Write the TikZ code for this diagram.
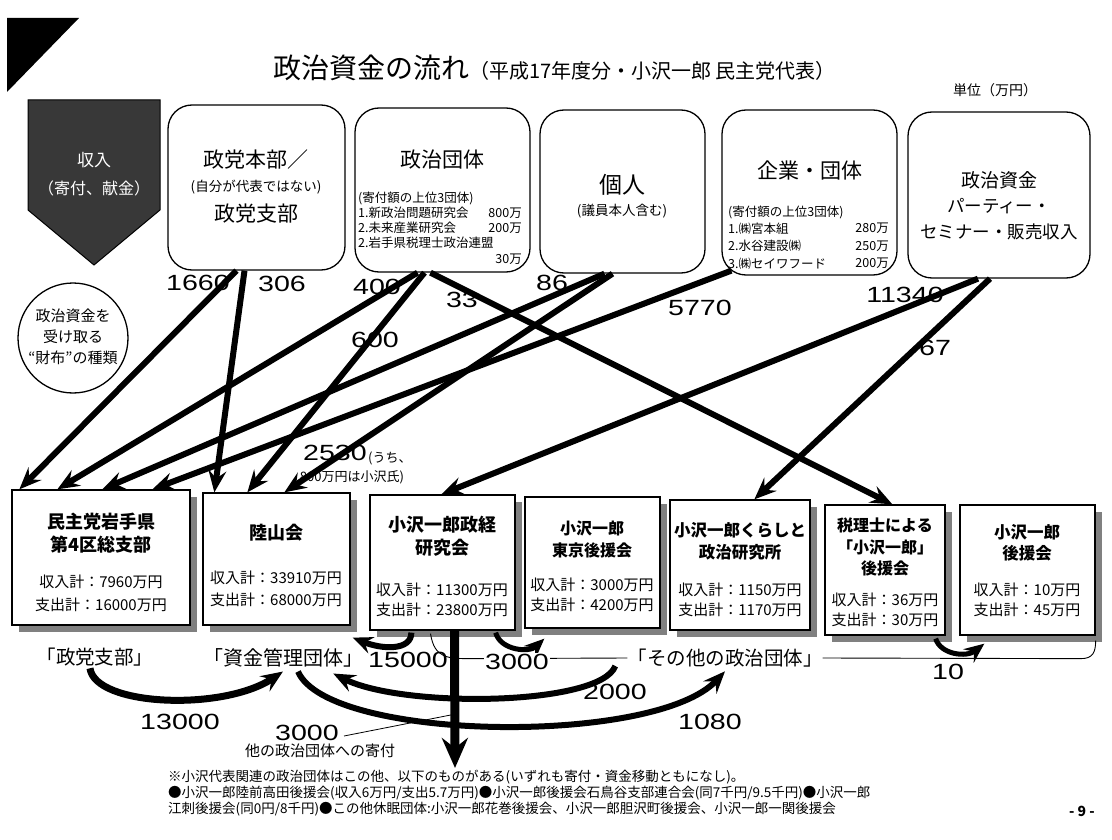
\documentclass[tikz,border=0pt]{standalone}
\usepackage{fontspec}
\setmainfont{Noto Sans CJK JP}
\newfontfamily\numfont[FakeStretch=1.3]{Liberation Sans}
\usetikzlibrary{arrows.meta,shadows,calc}

\newcommand{\fsz}[1]{\fontsize{#1}{#1}\selectfont}

\tikzset{
  srcbox/.style={draw, line width=1.3pt, rounded corners=24pt, inner sep=0pt},
  wallet/.style={draw, line width=1.3pt, fill=white, inner sep=0pt,
    drop shadow={shadow xshift=7pt, shadow yshift=-7pt, fill=black!50, opacity=1}},
  flow/.style={line width=6pt, -{Stealth[length=22pt,width=18pt,inset=8pt]}},
  amt/.style={font=\numfont\fsz{22}, inner sep=0pt},
  headtxt/.style={font=\fsz{21}, inner sep=0pt},
  subtxt/.style={font=\fsz{13.5}, inner sep=0pt},
  listtxt/.style={font=\fsz{12.5}, inner sep=0pt},
  wname/.style={font=\bfseries\fsz{18}, inner sep=0pt},
  wsum/.style={font=\fsz{15}, inner sep=0pt},
  kindtxt/.style={font=\fsz{19.5}, inner sep=0pt},
  notetxt/.style={font=\fsz{13.5}, inner sep=0pt, anchor=west},
}

\begin{document}
\begin{tikzpicture}[x=1pt, y=-1pt]
  \useasboundingbox (0,0) rectangle (1112,840);

  % corner mark and title
  \fill (7,18) -- (79,18) -- (7,92) -- cycle;
  \node[anchor=west, inner sep=0pt] (title) at (273,68)
    {{\fsz{28}政治資金の流れ}{\fsz{20}（平成17年度分・小沢一郎 民主党代表）}};
  \node[font=\fsz{14}, inner sep=0pt] (unit) at (995,90) {単位（万円）};

  % income badge and wallet circle
  \draw[fill=black!78, line width=1pt]
    (28,100) -- (160,100) -- (160,210) -- (94,265) -- (28,210) -- cycle;
  \node[font=\fsz{17}, text=white, inner sep=0pt] (incA) at (94,160) {収入};
  \node[font=\fsz{16}, text=white, inner sep=0pt] (incB) at (94,188) {（寄付、献金）};

  \node[draw, circle, line width=1.3pt, minimum size=110pt, inner sep=0pt] (purse) at (73,338) {};
  \node[font=\fsz{15}, inner sep=0pt] (purseA) at (73,316) {政治資金を};
  \node[font=\fsz{15}, inner sep=0pt] (purseB) at (73,337) {受け取る};
  \node[font=\fsz{15}, inner sep=0pt] (purseC) at (73,358) {“財布”の種類};

  % sources
  \node[srcbox, minimum width=177pt, minimum height=165pt] (hq) at (256.5,187.5) {};
  \node[headtxt] (hqA) at (256,160) {政党本部／};
  \node[subtxt] (hqB) at (256,187) {(自分が代表ではない)};
  \node[headtxt] (hqC) at (256,214) {政党支部};

  \node[srcbox, minimum width=175pt, minimum height=164pt] (dantai) at (442.5,190) {};
  \node[headtxt] (dantaiA) at (442,160) {政治団体};
  \node[listtxt, anchor=west] (dantaiB) at (358,198) {(寄付額の上位3団体)};
  \foreach \name/\val [count = \i] in {1.新政治問題研究会/800万, 2.未来産業研究会/200万} {
    \node[listtxt, anchor=west] (dantaiL\i) at (358,{198+15*\i}) {\name};
    \node[listtxt, anchor=east] (dantaiV\i) at (522,{198+15*\i}) {\val};
  }
  \node[listtxt, anchor=west] (dantaiL3) at (358,243) {2.岩手県税理士政治連盟};
  \node[listtxt, anchor=east] (dantaiV3) at (522,259) {30万};

  \node[srcbox, minimum width=165pt, minimum height=163pt] (kojin) at (622.5,191.5) {};
  \node[font=\fsz{23}, inner sep=0pt] (kojinA) at (622,185) {個人};
  \node[subtxt] (kojinB) at (622,211) {(議員本人含む)};

  \node[srcbox, minimum width=175pt, minimum height=165pt] (kigyo) at (809.5,192.5) {};
  \node[headtxt] (kigyoA) at (810,170) {企業・団体};
  \node[listtxt, anchor=west] (kigyoB) at (728,212) {(寄付額の上位3団体)};
  \foreach \name/\val [count = \i] in {1.㈱宮本組/280万, 2.水谷建設㈱/250万, 3.㈱セイワフード/200万} {
    \node[listtxt, anchor=west] (kigyoL\i) at (728,{211+17.5*\i}) {\name};
    \node[listtxt, anchor=east] (kigyoV\i) at (889,{211+17.5*\i}) {\val};
  }

  \node[srcbox, minimum width=182pt, minimum height=166pt] (party) at (999,195) {};
  \node[font=\fsz{19}, inner sep=0pt] (partyA) at (999,180) {政治資金};
  \node[font=\fsz{17.5}, inner sep=0pt] (partyB) at (999,206) {パーティー・};
  \node[font=\fsz{17.5}, inner sep=0pt] (partyC) at (999,232) {セミナー・販売収入};

  % wallets
  \node[wallet, minimum width=178pt, minimum height=135pt] (branch) at (101,557.5) {};
  \node[wname] (branchA) at (101,522) {民主党岩手県};
  \node[wname] (branchB) at (101,545) {第4区総支部};
  \node[wsum] (branchC) at (101,582) {収入計：7960万円};
  \node[wsum] (branchD) at (101,605) {支出計：16000万円};

  \node[wallet, minimum width=147pt, minimum height=132pt] (rikuzan) at (276.5,559) {};
  \node[wname] (rikuzanA) at (276,533) {陸山会};
  \node[wsum] (rikuzanC) at (276,578) {収入計：33910万円};
  \node[wsum] (rikuzanD) at (276,600) {支出計：68000万円};

  \node[wallet, minimum width=145pt, minimum height=135pt] (seikei) at (442.5,562.5) {};
  \node[wname] (seikeiA) at (442,525) {小沢一郎政経};
  \node[wname] (seikeiB) at (442,548) {研究会};
  \node[wsum] (seikeiC) at (442,590) {収入計：11300万円};
  \node[wsum] (seikeiD) at (442,610) {支出計：23800万円};

  \node[wallet, minimum width=135pt, minimum height=131pt] (tokyo) at (592.5,562.5) {};
  \node[wname, font=\bfseries\fsz{16}] (tokyoA) at (592,528) {小沢一郎};
  \node[wname, font=\bfseries\fsz{16}] (tokyoB) at (592,550) {東京後援会};
  \node[wsum] (tokyoC) at (592,585) {収入計：3000万円};
  \node[wsum] (tokyoD) at (592,605) {支出計：4200万円};

  \node[wallet, minimum width=140pt, minimum height=130pt] (kurashi) at (740,565) {};
  \node[wname, font=\bfseries\fsz{16.5}] (kurashiA) at (740,530) {小沢一郎くらしと};
  \node[wname, font=\bfseries\fsz{16.5}] (kurashiB) at (740,552) {政治研究所};
  \node[wsum] (kurashiC) at (740,590) {収入計：1150万円};
  \node[wsum] (kurashiD) at (740,610) {支出計：1170万円};

  \node[wallet, minimum width=120pt, minimum height=130pt] (zeirishi) at (885,570) {};
  \node[wname, font=\bfseries\fsz{16}] (zeirishiA) at (885,525) {税理士による};
  \node[wname, font=\bfseries\fsz{16}] (zeirishiB) at (885,547) {「小沢一郎」};
  \node[wname, font=\bfseries\fsz{16}] (zeirishiE) at (885,568) {後援会};
  \node[wsum] (zeirishiC) at (885,600) {収入計：36万円};
  \node[wsum] (zeirishiD) at (885,620) {支出計：30万円};

  \node[wallet, minimum width=135pt, minimum height=130pt] (koenkai) at (1027.5,570) {};
  \node[wname, font=\bfseries\fsz{16.5}] (koenkaiA) at (1027,532) {小沢一郎};
  \node[wname, font=\bfseries\fsz{16.5}] (koenkaiB) at (1027,553) {後援会};
  \node[wsum] (koenkaiC) at (1027,590) {収入計：10万円};
  \node[wsum] (koenkaiD) at (1027,610) {支出計：45万円};

  % amounts on the flows
  \node[amt] (n1660) at (198,283) {1660};
  \node[amt] (n306) at (282,284) {306};
  \node[amt] (n400) at (377,287) {400};
  \node[amt] (n33) at (462,300) {33};
  \node[amt] (n86) at (552,283) {86};
  \node[amt] (n600) at (375,340) {600};
  \node[amt] (n5770) at (700,308) {5770};
  \node[amt] (n11340) at (905,295) {11340};
  \node[amt] (n67) at (935,348) {67};
  \node[amt] (n2530) at (335,453) {2530};
  \node[font=\fsz{13}, anchor=west, inner sep=0pt] (n2530a) at (368,458) {(うち、};
  \node[font=\fsz{13}, inner sep=0pt] (n2530b) at (352,477) {800万円は小沢氏)};

  % income flows
  \draw[flow] ($(hq.south)+(-20,0)$) -- ($(branch.north west)+(8,0)$);
  \draw[flow] ($(hq.south)+(-12,0)$) -- ($(rikuzan.north west)+(12,0)$);
  \draw[flow] ($(dantai.south)+(-25,0)$) -- ($(branch.north west)+(46,0)$);
  \draw[flow] ($(dantai.south)+(-18,0)$) -- ($(rikuzan.north west)+(45,0)$);
  \draw[flow] ($(dantai.south)+(-12,0)$) -- ($(zeirishi.north west)+(68,0)$);
  \draw[flow] ($(kojin.south)+(-18,0)$) -- ($(branch.north west)+(91,0)$);
  \draw[flow] ($(kojin.south)+(-10,0)$) -- ($(rikuzan.north west)+(82,0)$);
  \draw[flow] ($(kigyo.south west)+(10,-5)$) -- ($(branch.north west)+(141,0)$);
  \draw[flow] ($(party.south)+(-21,0)$) -- ($(seikei.north west)+(72,0)$);
  \draw[flow] ($(party.south)+(-9,0)$) -- ($(kurashi.north west)+(85,0)$);

  % kinds of wallet
  \node[kindtxt] (kParty) at (95,657) {「政党支部」};
  \node[kindtxt, font=\fsz{20}] (kFund) at (283,658) {「資金管理団体」};
  \node[kindtxt] (kOther) at (725,658) {「その他の政治団体」};

  \draw[line width=0.9pt] ($(seikei.south)+(-12,3)$) .. controls +(4,25) and +(-25,0) ..
    ($(seikei.south)+(30,28)$) -- (kOther.west);
  \draw[line width=0.9pt] (kOther.east) -- ($(koenkai.south east)+(-15,23)$)
    .. controls +(12,0) and +(0,12) .. ($(koenkai.south east)+(0,5)$);

  % transfers between wallets
  \draw[line width=7pt, -{Stealth[length=22pt,width=18pt,inset=8pt]}]
    ($(kParty.south)+(-5,2)$) .. controls +(5,38) and +(-60,40) .. ($(kFund.south)+(0,4)$);
  \draw[line width=6pt, -{Stealth[length=22pt,width=18pt,inset=8pt]}]
    ($(kFund.south)+(15,4)$) .. controls +(30,70) and +(-70,75) .. ($(kOther.south)+(0,4)$);
  \draw[line width=6pt, -{Stealth[length=22pt,width=18pt,inset=8pt]}]
    ($(kOther.west)+(-12,8)$) .. controls +(-15,40) and +(70,35) .. ($(kFund.south east)+(-30,6)$);
  \draw[line width=6pt, -{Stealth[length=20pt,width=17pt,inset=7pt]}]
    ($(seikei.south west)+(42,2)$) .. controls +(0,18) and +(30,12) .. ($(rikuzan.south east)+(2,12)$);
  \draw[line width=5pt, -{Stealth[length=20pt,width=17pt,inset=7pt]}]
    ($(seikei.south east)+(-20,2)$) .. controls +(5,18) and +(-15,14) .. ($(tokyo.south west)+(20,10)$);
  \draw[line width=5pt, -{Stealth[length=20pt,width=17pt,inset=7pt]}]
    ($(zeirishi.south east)+(-10,3)$) .. controls +(5,16) and +(-18,14) .. ($(koenkai.south west)+(25,8)$);

  \coordinate (dropEnd) at (455,768);
  \draw[line width=9pt, -{Stealth[length=30pt,width=26pt,inset=10pt]}] ($(seikei.south)+(12,0)$) -- (dropEnd);

  \node[amt] (t15000) at (408,660) {15000};
  \node[amt, fill=white, inner sep=1pt] (t3000a) at (517,662) {3000};
  \node[amt] (t10) at (948,672) {10};
  \node[amt] (t2000) at (615,692) {2000};
  \node[amt] (t13000) at (180,722) {13000};
  \node[amt] (t3000b) at (307,733) {3000};
  \node[font=\fsz{15}, inner sep=0pt] (tGift) at (320,751) {他の政治団体への寄付};
  \node[amt] (t1080) at (710,722) {1080};
  \draw[line width=0.8pt] ($(t3000b.east)+(5,3)$) -- ($(seikei.south)+(10,84)$);

  % footnote
  \node[notetxt] (fnA) at (168,777) {※小沢代表関連の政治団体はこの他、以下のものがある(いずれも寄付・資金移動ともになし)。};
  \node[notetxt] (fnB) at (168,793) {●小沢一郎陸前高田後援会(収入6万円/支出5.7万円)●小沢一郎後援会石鳥谷支部連合会(同7千円/9.5千円)●小沢一郎};
  \node[notetxt] (fnC) at (168,809) {江刺後援会(同0円/8千円)●この他休眠団体:小沢一郎花巻後援会、小沢一郎胆沢町後援会、小沢一郎一関後援会};
  \node[font=\bfseries\fsz{14}, inner sep=0pt] (page) at (1082,811) {- 9 -};

\end{tikzpicture}
\end{document}
